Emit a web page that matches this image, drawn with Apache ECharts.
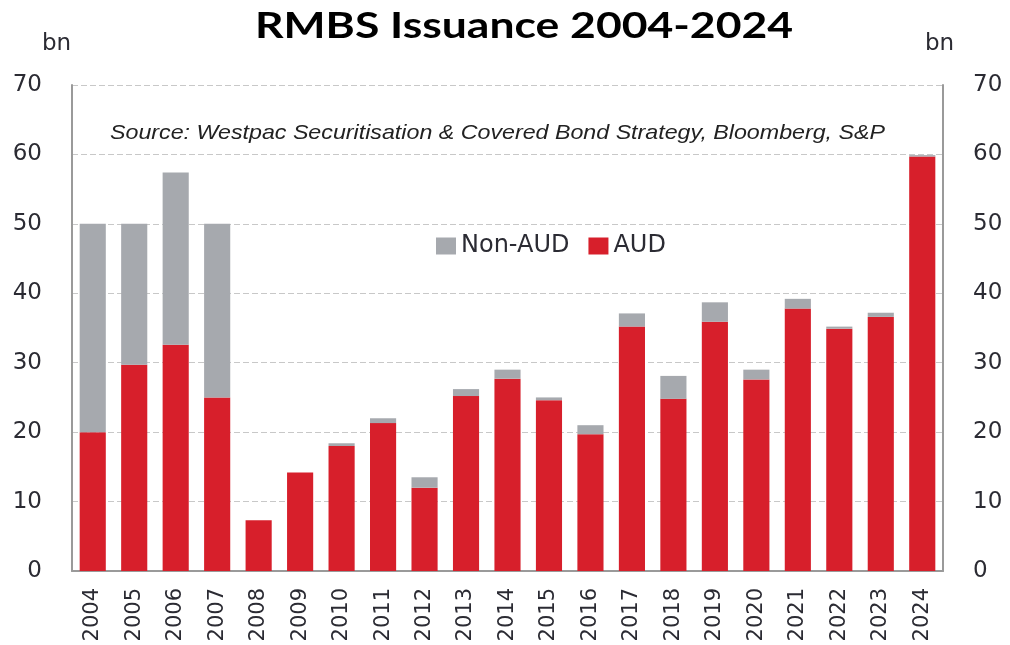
<!DOCTYPE html>
<html><head><meta charset="utf-8">
<script src="https://cdn.jsdelivr.net/npm/echarts@6/dist/echarts.min.js"></script>
<style>html,body{margin:0;padding:0;background:#fff}#c{width:1010px;height:645px}</style>
</head><body><div id="c"></div>
<script>
const years = ['2004','2005','2006','2007','2008','2009','2010','2011','2012','2013','2014','2015','2016','2017','2018','2019','2020','2021','2022','2023','2024'];
const aud =    [20.0, 29.7, 32.6, 25.0, 7.3, 14.2, 18.0, 21.3, 12.0, 25.2, 27.7, 24.6, 19.7, 35.2, 24.8, 35.9, 27.6, 37.8, 34.9, 36.6, 59.7];
const nonAud = [30.0, 20.3, 24.8, 25.0, 0.0, 0.0, 0.4, 0.7, 1.5, 1.0, 1.3, 0.4, 1.3, 1.9, 3.3, 2.8, 1.4, 1.4, 0.3, 0.6, 0.2];
const yTicks = [0, 10, 20, 30, 40, 50, 60, 70];
const titleText = 'RMBS Issuance 2004-2024';
const sourceText = 'Source: Westpac Securitisation & Covered Bond Strategy, Bloomberg, S&P';

function measure(text, font) {
  const ctx = document.createElement('canvas').getContext('2d');
  ctx.font = font;
  return ctx.measureText(text).width;
}
const titleFont = 'bold 36px Lato';
const srcFont = 'italic 21px "Liberation Sans"';
const titleScale = 538 / measure(titleText, titleFont);
const srcScale = 775 / measure(sourceText, srcFont);

const chart = echarts.init(document.getElementById('c'));
const font = 'DejaVu Sans';
const labelColor = '#2b2b33';
const yAxisBase = {
  type: 'value', min: yTicks[0], max: yTicks[yTicks.length-1], interval: 10,
  axisLine: {show: true, lineStyle: {color: '#9a9a9a', width: 2}},
  axisTick: {show: false},
  axisLabel: {fontFamily: font, fontSize: 23, color: labelColor, margin: 30}
};
chart.setOption({
  animation: false,
  graphic: [
    {type: 'text', x: 524, y: 26, scaleX: titleScale, style: {text: titleText, font: titleFont, fill: '#000', align: 'center', verticalAlign: 'middle'}},
    {type: 'text', x: 42, y: 44, style: {text: 'bn', font: '23px "DejaVu Sans"', fill: labelColor, verticalAlign: 'middle'}},
    {type: 'text', x: 925, y: 44, style: {text: 'bn', font: '23px "DejaVu Sans"', fill: labelColor, verticalAlign: 'middle'}},
    {type: 'text', x: 110, y: 133, scaleX: srcScale, style: {text: sourceText, font: srcFont, fill: '#222', verticalAlign: 'middle'}}
  ],
  legend: {left: 431, top: 229, itemWidth: 20, itemHeight: 17, itemGap: 19, icon: 'rect',
    textStyle: {fontFamily: font, fontSize: 24, color: labelColor},
    data: ['Non-AUD', 'AUD']},
  grid: {left: 72, right: 67, top: 85, bottom: 74},
  xAxis: {type: 'category', data: years,
    axisLine: {lineStyle: {color: '#9a9a9a', width: 2}},
    axisTick: {show: false},
    axisLabel: {rotate: 90, fontFamily: font, fontSize: 21, color: labelColor, margin: 17, interval: 0}},
  yAxis: [
    Object.assign({}, yAxisBase, {position: 'left',
      splitLine: {show: true, lineStyle: {color: '#c8c8c8', type: [6, 3], width: 1}}}),
    Object.assign({}, yAxisBase, {position: 'right', splitLine: {show: false}})
  ],
  series: [
    {name: 'AUD', type: 'bar', stack: 's', data: aud, barWidth: '63%', itemStyle: {color: '#D71F2B'}},
    {name: 'Non-AUD', type: 'bar', stack: 's', data: nonAud, barWidth: '63%', itemStyle: {color: '#A6A9AE'}}
  ]
});
</script></body></html>
